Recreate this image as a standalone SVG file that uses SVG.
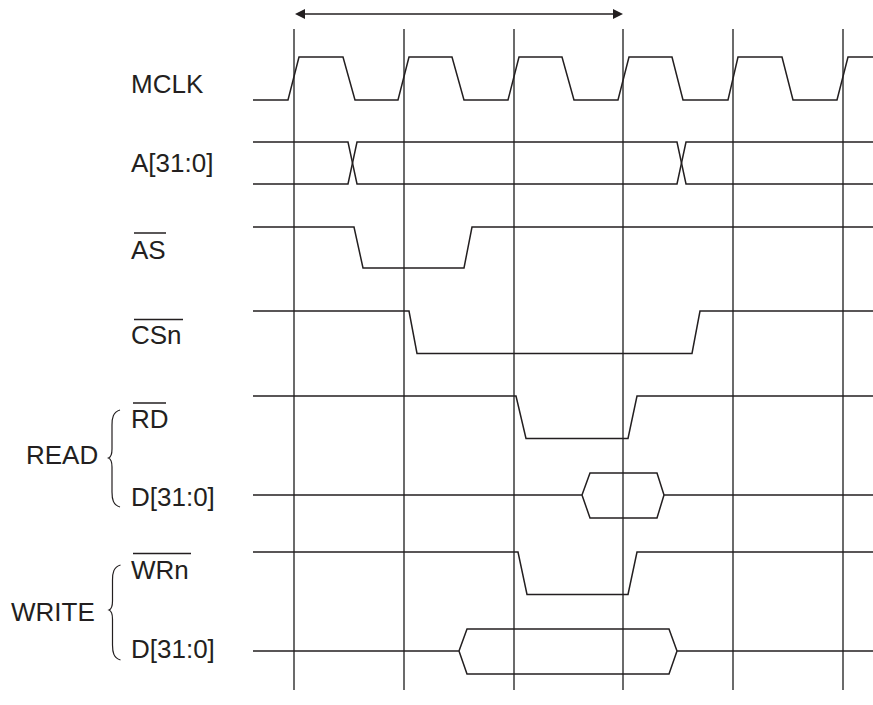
<svg xmlns="http://www.w3.org/2000/svg" width="873" height="705" viewBox="0 0 873 705">
<style>
.lbl{font-family:"Liberation Sans",Arial,sans-serif;font-size:26px;fill:#231f20}
.sig{fill:none;stroke:#231f20;stroke-width:1.5;stroke-linejoin:miter}
.grid{stroke:#3a3a3a;stroke-width:1.5}
.ov{stroke:#231f20;stroke-width:1.5}
.br{fill:none;stroke:#231f20;stroke-width:1.2}
</style>
<rect width="873" height="705" fill="#fff"/>
<g id="grid">
<line class="grid" x1="294" y1="29" x2="294" y2="690"/>
<line class="grid" x1="404" y1="29" x2="404" y2="690"/>
<line class="grid" x1="514" y1="29" x2="514" y2="690"/>
<line class="grid" x1="623" y1="29" x2="623" y2="690"/>
<line class="grid" x1="733" y1="29" x2="733" y2="690"/>
<line class="grid" x1="843" y1="29" x2="843" y2="690"/>
</g>
<g id="period-arrow">
<line class="sig" x1="302" y1="14" x2="616" y2="14"/>
<polygon points="295,14 305,9 305,19" fill="#231f20"/>
<polygon points="623,14 613,9 613,19" fill="#231f20"/>
</g>
<g id="labels">
<text class="lbl" x="131" y="93">MCLK</text>
<text class="lbl" x="131" y="172">A[31:0]</text>
<text class="lbl" x="131" y="259">AS</text>
<line class="ov" x1="134" y1="233" x2="166" y2="233"/>
<text class="lbl" x="131" y="344">CSn</text>
<line class="ov" x1="134" y1="319.5" x2="183" y2="319.5"/>
<text class="lbl" x="131" y="428">RD</text>
<line class="ov" x1="133" y1="403" x2="166" y2="403"/>
<text class="lbl" x="131" y="506">D[31:0]</text>
<text class="lbl" x="131" y="579">WRn</text>
<line class="ov" x1="133" y1="553.5" x2="191" y2="553.5"/>
<text class="lbl" x="131" y="658">D[31:0]</text>
<text class="lbl" x="26" y="464">READ</text>
<text class="lbl" x="11" y="621">WRITE</text>
<path class="br" d="M120,410 C113,412 112,418 112,425 L112,449 C112,454 111,457 108.5,458 C111,459 112,462 112,467 L112,492 C112,499 113,505 120,507"/>
<path class="br" d="M120.5,565 C113.5,567 112.5,573 112.5,580 L112.5,601 C112.5,606 111.5,609 109,610 C111.5,611 112.5,614 112.5,619 L112.5,645 C112.5,652 113.5,658 120.5,660"/>
</g>
<g id="MCLK"><path class="sig" d="M253,100 L288,100 L299,57 L343,57 L355,100 L398,100 L409,57 L452,57 L464,100 L508,100 L519,57 L562,57 L574,100 L618,100 L629,57 L672,57 L683,100 L728,100 L738,57 L782,57 L793,100 L837,100 L848,57 L873,57"/></g>
<g id="A"><path class="sig" d="M253,142 L348,142 L357,184 L677,184 L686,142 L873,142"/><path class="sig" d="M253,184 L348,184 L357,142 L677,142 L686,184 L873,184"/></g>
<g id="AS"><path class="sig" d="M253,227 L354,227 L363,268 L464,268 L472,227 L873,227"/></g>
<g id="CSn"><path class="sig" d="M253,311 L409,311 L417,353.5 L692,353.5 L700,311 L873,311"/></g>
<g id="RD"><path class="sig" d="M253,396 L516,396 L526,438.5 L628,438.5 L637,396 L873,396"/></g>
<g id="DR"><path class="sig" d="M253,495 L582,495 M664,495 L873,495 M582,495 L590,473 L657,473 L664,495 L657,518 L590,518 Z"/></g>
<g id="WRn"><path class="sig" d="M253,552 L518,552 L527,594.5 L628,594.5 L637,552 L873,552"/></g>
<g id="DW"><path class="sig" d="M253,651 L459,651 M677,651 L873,651 M459,651 L467,629 L669,629 L677,651 L669,674 L467,674 Z"/></g>
</svg>
